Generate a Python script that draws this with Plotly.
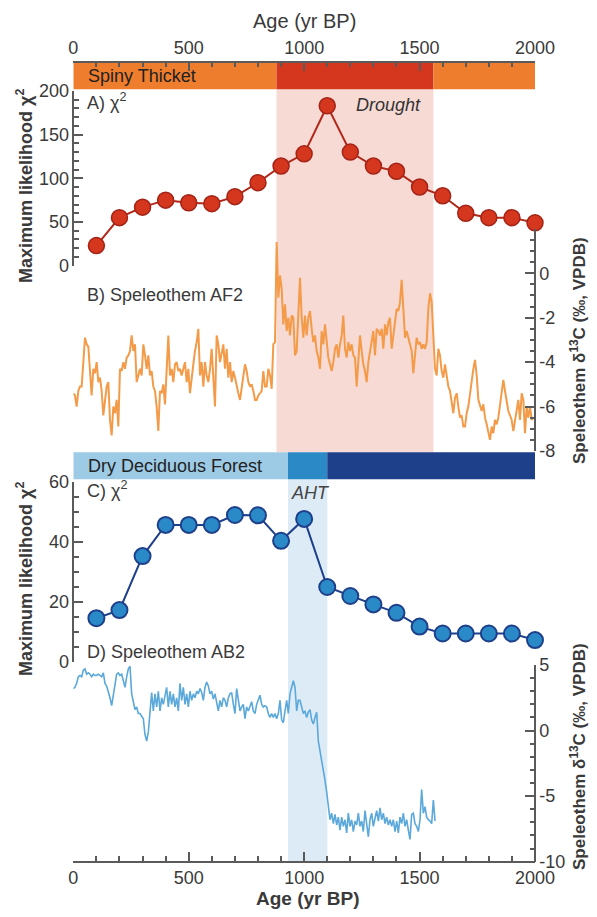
import plotly.graph_objects as go

# ---------------- data ----------------
chi_age = [100, 200, 300, 400, 500, 600, 700, 800, 900, 1000,
           1100, 1200, 1300, 1400, 1500, 1600, 1700, 1800, 1900, 2000]
chi_A = [23, 55, 67, 75, 72, 71, 79, 95, 114, 128,
         183, 130, 114, 108, 90, 80, 60, 55, 55, 49]
chi_C = [14.5, 17.2, 35.2, 45.6, 45.6, 45.6, 48.9, 48.8, 40.3, 47.6,
         24.9, 21.9, 19.1, 16.3, 11.7, 9.4, 9.4, 9.4, 9.4, 7.2]

AF2_AGE_START = 0.1
AF2_AGE_STEP = 7.22
af2_d13c = [
    -5.4, -5.5, -6.0, -5.3, -5.1, -5.1, -4.0, -2.9, -3.2, -3.3,
    -4.4, -5.5, -4.3, -4.5, -4.0, -4.9, -4.7, -5.3, -6.4, -5.7,
    -5.1, -4.9, -6.6, -7.3, -6.0, -6.3, -5.7, -6.9, -4.3, -4.4,
    -4.0, -4.3, -3.8, -3.7, -3.5, -2.8, -3.5, -3.2, -4.9, -4.6,
    -4.3, -4.6, -3.2, -3.7, -4.3, -3.7, -4.6, -4.4, -5.1, -5.3,
    -6.0, -7.1, -5.3, -5.4, -5.0, -5.9, -4.3, -2.8, -4.6, -4.3,
    -4.9, -4.1, -4.0, -4.4, -4.3, -4.6, -4.3, -4.0, -4.9, -4.3,
    -5.4, -4.6, -4.1, -3.5, -3.1, -2.5, -4.6, -4.0, -5.1, -4.0,
    -4.6, -4.9, -4.3, -3.4, -4.6, -6.0, -2.8, -3.2, -4.0, -3.5,
    -3.2, -4.3, -3.4, -4.7, -4.0, -4.9, -4.4, -4.7, -5.1, -5.4,
    -5.7, -5.1, -4.6, -4.1, -4.4, -4.9, -5.1, -5.0, -5.3, -5.7,
    -5.7, -5.5, -5.4, -5.3, -4.4, -5.1, -5.1, -4.3, -4.6, -5.2,
    -3.2, -3.1, 1.4, -1.1, -0.1, -0.7, -2.3, -1.4, -2.6, -2.0,
    -2.8, -1.9, -2.0, -3.7, -3.5, -2.0, -0.2, -2.0, -2.9, -1.9,
    -2.8, -2.0, -1.7, -2.5, -3.1, -2.8, -3.5, -3.8, -4.3, -2.6,
    -3.2, -2.3, -3.2, -3.8, -4.1, -4.4, -4.0, -3.4, -3.2, -3.8,
    -3.2, -2.8, -1.9, -3.4, -3.8, -3.1, -3.5, -3.2, -3.7, -3.8,
    -5.1, -4.0, -2.8, -3.5, -4.1, -4.4, -4.9, -4.0, -3.5, -3.1,
    -2.6, -3.7, -2.5, -2.6, -2.8, -2.5, -3.4, -2.3, -2.8, -2.2,
    -2.0, -3.4, -2.8, -2.0, -1.6, -1.7, -1.3, -0.3, -1.6, -2.9,
    -2.6, -2.9, -3.1, -3.5, -4.5, -3.7, -2.9, -3.2, -3.1, -3.4,
    -3.2, -3.4, -3.1, -1.6, -0.9, -1.3, -3.1, -4.3, -4.6, -3.4,
    -3.7, -4.4, -4.7, -4.1, -4.6, -5.1, -5.3, -5.9, -6.3, -5.6,
    -5.4, -6.0, -6.5, -6.4, -6.9, -6.9, -6.3, -6.0, -5.4, -4.9,
    -4.3, -3.9, -4.6, -5.7, -6.0, -6.2, -5.9, -6.5, -6.8, -7.1,
    -7.5, -6.9, -7.2, -6.6, -6.8, -6.5, -6.0, -5.4, -4.8, -5.3,
    -5.7, -6.2, -6.4, -6.6, -7.1, -6.6, -6.0, -5.7, -6.6, -5.4,
    -5.7, -7.2, -6.0, -6.5, -6.0, -6.6, -6.5,
]

AB2_AGE_START = 0.1
AB2_AGE_STEP = 7.22
ab2_d13c = [
    3.2, 3.3, 3.6, 4.1, 4.2, 4.1, 4.6, 4.7, 4.3, 4.4,
    4.3, 4.1, 4.3, 4.2, 4.2, 4.3, 4.2, 4.1, 4.4, 3.6,
    3.4, 3.0, 2.5, 1.9, 2.8, 3.8, 4.3, 4.4, 4.2, 4.3,
    3.8, 3.3, 4.1, 4.7, 4.9, 2.8, 2.2, 1.6, 1.8, 1.3,
    1.3, 1.1, 0.9, -0.3, -0.8, -0.1, 1.8, 2.9, 1.5, 2.8,
    1.8, 3.0, 1.5, 2.5, 2.0, 2.8, 3.3, 1.8, 3.0, 2.0,
    2.8, 1.8, 2.5, 1.5, 3.6, 2.3, 3.3, 2.0, 2.8, 1.8,
    3.0, 2.3, 2.8, 2.5, 3.0, 2.8, 3.2, 2.9, 2.3, 3.3,
    3.7, 3.4, 2.8, 3.0, 2.4, 2.8, 2.2, 1.5, 2.3, 1.8,
    2.5, 2.3, 1.8, 2.5, 2.8, 2.9, 2.0, 1.3, 3.2, 2.3,
    1.5, 1.8, 2.0, 0.9, 1.8, 1.5, 1.9, 2.2, 1.5, 1.3,
    2.0, 2.4, 2.7, 2.0, 1.8, 1.9, 1.8, 1.3, 1.0, 1.3,
    1.0, 1.3, 0.9, 1.3, 2.3, 0.8, 0.6, 1.5, 2.3, 1.3,
    2.8, 3.3, 3.8, 3.3, 1.5, 2.3, 2.3, 1.8, 1.3, 1.5,
    1.0, 1.4, 1.6, 0.8, 0.5, 1.0, 1.4, -0.8, -1.5, -2.3,
    -3.0, -3.8, -4.7, -5.6, -6.8, -6.3, -7.1, -6.4, -7.2, -6.6,
    -7.6, -6.6, -7.3, -6.8, -7.8, -6.3, -7.3, -6.8, -7.7, -6.9,
    -7.2, -6.3, -7.3, -6.9, -7.7, -6.1, -7.3, -8.1, -6.8, -6.3,
    -7.3, -6.8, -6.1, -6.9, -5.9, -6.8, -6.3, -7.1, -6.6, -7.2,
    -6.8, -7.3, -6.8, -7.7, -6.9, -7.8, -6.6, -7.1, -6.3, -7.3,
    -6.8, -7.6, -8.3, -6.4, -6.3, -7.1, -7.3, -7.7, -6.8, -4.5,
    -6.3, -5.8, -6.6, -6.8, -6.9, -7.1, -5.3, -6.9,
]

af2_age = [AF2_AGE_START + i * AF2_AGE_STEP for i in range(len(af2_d13c))]
ab2_age = [AB2_AGE_START + i * AB2_AGE_STEP for i in range(len(ab2_d13c))]

# top vegetation / climate bars (age ranges)
veg_top = [(0, 880, "#EF7D2E"), (880, 1560, "#D5361E"), (1560, 2000, "#EF7D2E")]
veg_bot = [(0, 930, "#9DCBE6"), (930, 1100, "#2B8AC6"), (1100, 2000, "#1E3F8A")]
drought = (880, 1560)
aht = (930, 1100)

# ---------------- layout helpers ----------------
# The page body has an 8px margin, so the figure is offset by 8px in the window.
OFF = 8
W, H = 589, 901
def px(x):
    return (x - OFF) / W
def py(y):
    return 1 - (y - OFF) / H

XD = [px(73.3), px(535)]
FONT = "Liberation Sans, Arial, Helvetica, sans-serif"
TXT = "#3a3a3a"
AX = "#5a5a5a"

fig = go.Figure()

fig.add_trace(go.Scatter(x=af2_age, y=af2_d13c, xaxis="x", yaxis="y2", mode="lines",
                         line=dict(color="#F39B48", width=2), cliponaxis=False, hoverinfo="skip"))
fig.add_trace(go.Scatter(x=chi_age, y=chi_A, xaxis="x", yaxis="y", mode="lines+markers",
                         line=dict(color="#B0281A", width=2),
                         marker=dict(size=16, color="#D5361E", line=dict(color="#A32416", width=1.5)),
                         cliponaxis=False))
fig.add_trace(go.Scatter(x=ab2_age, y=ab2_d13c, xaxis="x2", yaxis="y4", mode="lines",
                         line=dict(color="#5BA8DA", width=1.6), cliponaxis=False, hoverinfo="skip"))
fig.add_trace(go.Scatter(x=chi_age, y=chi_C, xaxis="x2", yaxis="y3", mode="lines+markers",
                         line=dict(color="#1E3F8A", width=2),
                         marker=dict(size=16, color="#2A8AC8", line=dict(color="#1E3F8A", width=2)),
                         cliponaxis=False))

common = dict(showline=True, linecolor=AX, linewidth=1.5, ticks="inside", tickcolor=AX,
              tickwidth=1.5, ticklen=9, showgrid=False, zeroline=False, automargin=False,
              tickfont=dict(family=FONT, size=18, color=TXT))
minor_kw = dict(ticks="inside", ticklen=4.5, tickcolor=AX, tickwidth=1.5)

fig.update_layout(
    width=W, height=H, margin=dict(l=0, r=0, t=0, b=0, autoexpand=False),
    paper_bgcolor="white", plot_bgcolor="rgba(0,0,0,0)", showlegend=False,
    font=dict(family=FONT, color=TXT),
    xaxis=dict(domain=XD, range=[0, 2000], side="top", anchor="free", position=py(61.7),
               tickvals=[0, 500, 1000, 1500, 2000], minor=dict(dtick=100, **minor_kw), **common),
    xaxis2=dict(domain=XD, range=[0, 2000], side="bottom", anchor="free", position=py(861.7),
                tickvals=[0, 500, 1000, 1500, 2000], minor=dict(dtick=100, **minor_kw), **common),
    yaxis=dict(domain=[py(265.7), py(90.9)], range=[0, 200], anchor="free", position=XD[0], side="left",
               tickvals=[0, 50, 100, 150, 200], minor=dict(dtick=10, **minor_kw), **common),
    yaxis2=dict(domain=[py(451), py(228.8)], range=[-8, 2], anchor="free", position=XD[1], side="right",
                tickvals=[0, -2, -4, -6, -8], ticktext=["0", "-2", "-4", "-6", "-8"],
                minor=dict(dtick=0.5, **minor_kw), **common),
    yaxis3=dict(domain=[py(661.7), py(481.7)], range=[0, 60], anchor="free", position=XD[0], side="left",
                tickvals=[0, 20, 40, 60], minor=dict(dtick=5, **minor_kw), **common),
    yaxis4=dict(domain=[py(861.7), py(665)], range=[-10, 5], anchor="free", position=XD[1], side="right",
                tickvals=[5, 0, -5, -10], ticktext=["5", "0", "-5", "-10"],
                minor=dict(dtick=1, **minor_kw), **common),
)

shapes = []
shapes.append(dict(type="rect", xref="x", yref="paper", x0=drought[0], x1=drought[1],
                   y0=py(452.3), y1=py(89.3), fillcolor="#F8DAD5", line=dict(width=0), layer="below"))
shapes.append(dict(type="rect", xref="x2", yref="paper", x0=aht[0], x1=aht[1],
                   y0=py(861.7), y1=py(479.3), fillcolor="#DDEBF6", line=dict(width=0), layer="below"))
for a, b, c in veg_top:
    shapes.append(dict(type="rect", xref="x", yref="paper", x0=a, x1=b, y0=py(89.3), y1=py(61.7),
                       fillcolor=c, line=dict(width=0), layer="below"))
for a, b, c in veg_bot:
    shapes.append(dict(type="rect", xref="x2", yref="paper", x0=a, x1=b, y0=py(479.3), y1=py(452.3),
                       fillcolor=c, line=dict(width=0), layer="below"))
fig.update_layout(shapes=shapes)

def ann(text, x, y, size=18, color=TXT, xanchor="left", angle=0):
    fig.add_annotation(text=text, x=px(x), y=py(y), xref="paper", yref="paper", showarrow=False,
                       xanchor=xanchor, yanchor="middle", textangle=angle,
                       font=dict(family=FONT, size=size, color=color))

ann("Age (yr BP)", 304, 21, size=20, xanchor="center")
ann("Spiny Thicket", 86, 76, color="#222222")
ann("A) χ<sup>2</sup>", 85, 102)
ann("<i>Drought</i>", 354, 105, color="#333333")
ann("B) Speleothem AF2", 85, 295)
ann("Dry Deciduous Forest", 86, 466, color="#222222")
ann("C) χ<sup>2</sup>", 85, 490)
ann("<i>AHT</i>", 289, 493, color="#444444")
ann("D) Speleothem AB2", 85, 652)
ann("<b>Age (yr BP)</b>", 307, 898, size=19, xanchor="center")
ann("<b>Maximum likelihood χ<sup>2</sup></b>", 24, 186, size=18, xanchor="center", angle=-90)
ann("<b>Maximum likelihood χ<sup>2</sup></b>", 24, 579, size=18, xanchor="center", angle=-90)
ann("<b>Speleothem δ<sup>13</sup>C (‰, VPDB)</b>", 578, 351, size=17, xanchor="center", angle=-90)
ann("<b>Speleothem δ<sup>13</sup>C (‰, VPDB)</b>", 578, 757, size=17, xanchor="center", angle=-90)

fig.write_html("out.html")
